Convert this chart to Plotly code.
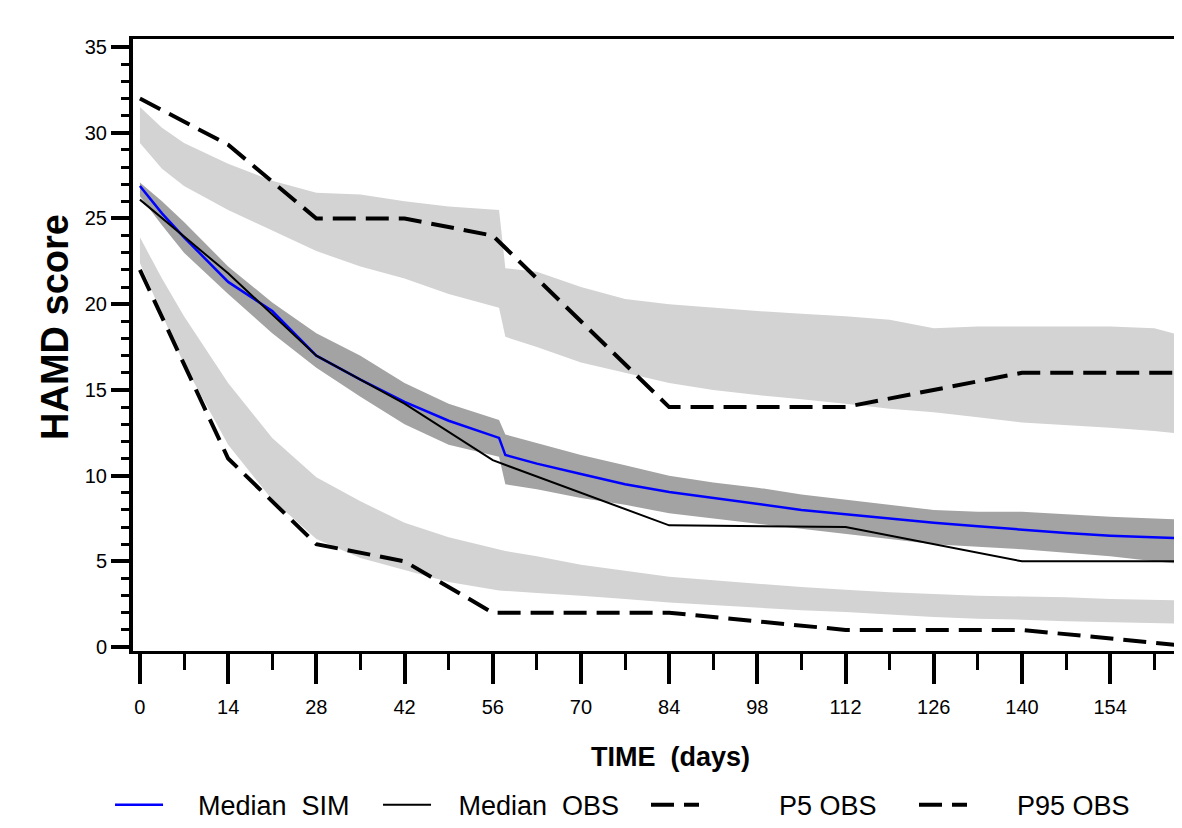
import numpy as np
import plotly.graph_objects as go

# ---------------- data ----------------
obs_days = [0, 14, 28, 42, 56, 84, 112, 140, 168]
median_obs = [26.1, 21.8, 17.0, 14.2, 10.9, 7.1, 7.0, 5.0, 5.0]
p5_obs = [22, 11, 6, 5, 2, 2, 1, 1, 0]
p95_obs = [32, 29.3, 25, 25, 24, 14, 14, 16, 16]

sim_days = [0, 3.5, 7, 14, 21, 28, 35, 42, 49, 57, 58, 63, 70, 77, 84, 91, 98,
            105, 112, 119, 126, 133, 140, 147, 154, 161, 168]
median_sim = [26.9, 25.3, 23.9, 21.3, 19.6, 17.0, 15.6, 14.3, 13.2, 12.2, 11.2, 10.7,
              10.1, 9.5, 9.05, 8.7, 8.35, 8.0, 7.75, 7.5, 7.25, 7.05, 6.85, 6.65,
              6.5, 6.4, 6.3]
median_ci_hi = [27.1, 26.0, 24.8, 22.2, 20.1, 18.3, 17.0, 15.4, 14.2, 13.25, 12.4, 11.9,
                11.2, 10.6, 10.0, 9.6, 9.3, 8.9, 8.6, 8.3, 8.0, 7.9, 7.9, 7.75,
                7.6, 7.5, 7.4]
median_ci_lo = [26.3, 24.6, 23.0, 20.6, 18.3, 16.3, 14.6, 13.0, 11.8, 11.1, 9.5, 9.2,
                8.7, 8.3, 7.8, 7.5, 7.2, 6.9, 6.6, 6.3, 6.0, 5.85, 5.7, 5.5,
                5.3, 5.0, 4.75]
p95_ci_hi = [31.5, 30.3, 29.4, 28.2, 27.2, 26.5, 26.4, 26.0, 25.7, 25.5, 22.1, 21.9,
             21.0, 20.3, 20.0, 19.8, 19.6, 19.45, 19.3, 19.1, 18.6, 18.7, 18.7, 18.7,
             18.7, 18.6, 17.9]
p95_ci_lo = [29.4, 27.9, 26.9, 25.5, 24.3, 23.1, 22.2, 21.5, 20.6, 19.8, 18.1, 17.5,
             16.6, 16.0, 15.4, 15.0, 14.7, 14.45, 14.2, 13.9, 13.7, 13.4, 13.1, 12.95,
             12.8, 12.6, 12.35]
p5_ci_hi = [23.9, 21.5, 19.3, 15.4, 12.2, 9.9, 8.5, 7.25, 6.4, 5.7, 5.6, 5.3,
            4.8, 4.45, 4.1, 3.9, 3.7, 3.5, 3.35, 3.2, 3.1, 3.0, 2.95, 2.9,
            2.8, 2.75, 2.7]
p5_ci_lo = [22.4, 19.4, 16.5, 11.8, 8.6, 6.3, 5.2, 4.5, 3.8, 3.3, 3.25, 3.15,
            3.0, 2.8, 2.6, 2.45, 2.3, 2.15, 2.05, 1.9, 1.75, 1.65, 1.6, 1.5,
            1.45, 1.4, 1.35]

x_ticks = list(range(0, 169, 14))
y_ticks = list(range(0, 36, 5))

LIGHT = "#d3d3d3"
DARK = "#a3a3a3"
FONT = "Liberation Sans, Arial, sans-serif"
NB = "\u00a0"

fig = go.Figure()


def band(lo, hi, color):
    xs = list(sim_days) + list(sim_days)[::-1]
    ys = list(hi) + list(lo)[::-1]
    fig.add_trace(go.Scatter(x=xs, y=ys, fill="toself", fillcolor=color,
                             line=dict(width=0, color=color), mode="lines",
                             showlegend=False, hoverinfo="skip"))


band(p95_ci_lo, p95_ci_hi, LIGHT)
band(p5_ci_lo, p5_ci_hi, LIGHT)
band(median_ci_lo, median_ci_hi, DARK)

fig.add_trace(go.Scatter(x=sim_days, y=median_sim, mode="lines",
                         name=NB * 4 + "Median" + NB * 2 + "SIM",
                         line=dict(color="#0000ff", width=2.5)))
fig.add_trace(go.Scatter(x=obs_days, y=median_obs, mode="lines",
                         name=NB * 3 + "Median" + NB * 2 + "OBS",
                         line=dict(color="black", width=2)))
fig.add_trace(go.Scatter(x=obs_days, y=p5_obs, mode="lines",
                         name=NB * 10 + "P5 OBS",
                         line=dict(color="black", width=4, dash="23px,10px")))
fig.add_trace(go.Scatter(x=obs_days, y=p95_obs, mode="lines",
                         name=NB * 6 + "P95 OBS",
                         line=dict(color="black", width=4, dash="23px,10px")))

# page body has an 8px margin: figure is 1174x820 so it fills the 1182x828 window
fig.update_layout(
    width=1174, height=820,
    margin=dict(l=125, r=0, t=31, b=177, autoexpand=False),
    paper_bgcolor="white", plot_bgcolor="white",
    font=dict(family=FONT, color="black"),
    showlegend=True,
    legend=dict(orientation="h", x=-0.0219, xanchor="left", y=-0.252, yanchor="middle",
                font=dict(size=27, family=FONT), itemwidth=48,
                entrywidth=205, entrywidthmode="pixels",
                bgcolor="rgba(0,0,0,0)"),
    annotations=[
        dict(text="<b>TIME" + NB * 2 + "(days)</b>", xref="paper", yref="paper",
             x=0.512, y=-0.173, xanchor="center", yanchor="middle", showarrow=False,
             font=dict(size=27, family=FONT)),
        dict(text="<b>HAMD score</b>", xref="paper", yref="paper", textangle=-90,
             x=-0.075, y=0.53, xanchor="center", yanchor="middle", showarrow=False,
             font=dict(size=38, family=FONT)),
    ],
)

fig.update_xaxes(
    range=[-1.1, 165.4], tickmode="array", tickvals=x_ticks,
    ticktext=[str(v) for v in x_ticks],
    ticks="outside", ticklen=30, tickwidth=4, tickcolor="black",
    tickfont=dict(size=20, family=FONT), ticklabelstandoff=6,
    minor=dict(tickmode="array", tickvals=[v + 7 for v in x_ticks],
               ticks="outside", ticklen=16, tickwidth=3, tickcolor="black"),
    showline=True, linecolor="black", linewidth=3, mirror=True,
    showgrid=False, zeroline=False,
)
fig.update_yaxes(
    range=[-0.23, 35.47], tickmode="array", tickvals=y_ticks,
    ticktext=[str(v) for v in y_ticks],
    ticks="outside", ticklen=18, tickwidth=4, tickcolor="black",
    tickfont=dict(size=20, family=FONT),
    minor=dict(tickmode="array", tickvals=[v for v in range(1, 36) if v % 5],
               ticks="outside", ticklen=8, tickwidth=3, tickcolor="black"),
    showline=True, linecolor="black", linewidth=4,
    showgrid=False, zeroline=False,
)

fig.write_html("out.html")
